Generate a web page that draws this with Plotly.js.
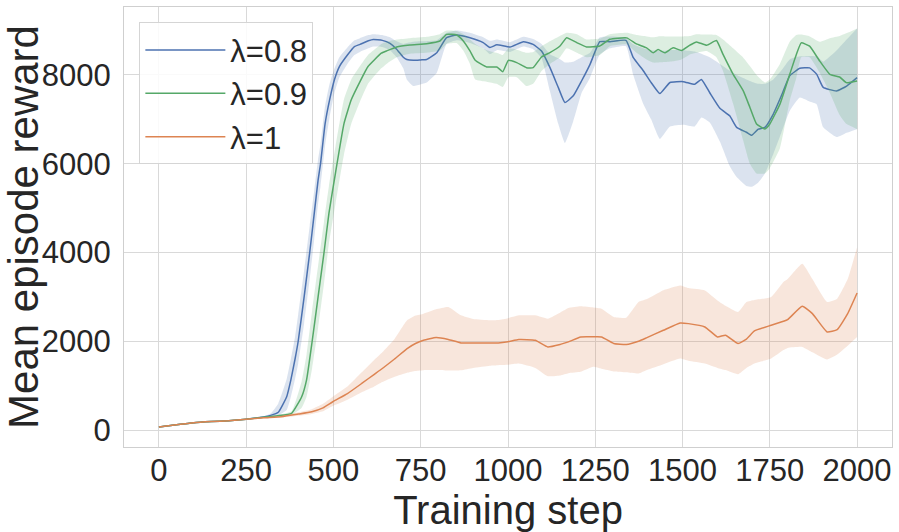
<!DOCTYPE html>
<html>
<head>
<meta charset="utf-8">
<script src="https://cdn.plot.ly/plotly-3.0.1.min.js"></script>
<style>
  html, body { margin: 0; padding: 0; background: #fff; }
  #graph { width: 899px; height: 532px; }
</style>
</head>
<body>
<div id="graph"></div>
<script>
'use strict';

// λ=0.8
var blueStep = [
  0, 50, 100, 150, 200, 250, 300, 320, 342, 366,
  378, 390, 399, 416, 432, 445, 456, 463, 476, 489,
  503, 517, 540, 560, 576, 600, 614, 640, 662, 681,
  700, 710, 729, 750, 767, 796, 824, 853, 891, 929,
  948, 968, 1006, 1044, 1072, 1096, 1120, 1144, 1163, 1187,
  1211, 1235, 1263, 1292, 1338, 1359, 1388, 1410, 1435, 1464,
  1502, 1535, 1554, 1578, 1607, 1635, 1655, 1683, 1698, 1717,
  1736, 1760, 1783, 1807, 1836, 1864, 1884, 1903, 1941, 1970,
  2000
];
var blueMean = [
  70, 120, 165, 190, 210, 245, 295, 330, 400, 750,
  1130, 1600, 2000, 3000, 4000, 4880, 5630, 6000, 6900, 7440,
  7900, 8190, 8450, 8640, 8690, 8770, 8800, 8780, 8710, 8580,
  8400, 8350, 8330, 8340, 8350, 8500, 8840, 8900, 8840, 8730,
  8620, 8680, 8630, 8750, 8690, 8540, 8170, 7720, 7380, 7530,
  7870, 8240, 8750, 8750, 8780, 8390, 8090, 7830, 7580, 7830,
  7850, 7790, 7900, 7600, 7250, 7080, 6820, 6710, 6640, 6780,
  6820, 7120, 7530, 7980, 8150, 8160, 8020, 7720, 7640, 7750,
  7940
];
var blueLow = [
  60, 110, 155, 180, 200, 235, 280, 300, 330, 450,
  750, 1150, 1500, 2400, 3400, 4300, 5100, 5500, 6400, 7050,
  7600, 7950, 8250, 8450, 8520, 8600, 8640, 8630, 8560, 8400,
  8150, 7900, 7750, 7790, 7830, 8050, 8700, 8780, 8720, 8600,
  8470, 8560, 8520, 8640, 8580, 8380, 7640, 6900, 6470, 6960,
  7600, 7940, 8460, 8600, 8650, 8000, 7340, 7000, 6560, 6840,
  6880, 6840, 7040, 6930, 6500, 5950, 5700, 5500, 5480, 5580,
  5780, 6220, 6700, 7190, 7490, 7400, 7340, 6820, 6600, 6700,
  6780
];
var blueHigh = [
  80, 130, 175, 200, 220, 255, 310, 370, 600, 1150,
  1600, 2100, 2600, 3600, 4600, 5400, 6100, 6450, 7300, 7800,
  8150, 8400, 8620, 8780, 8830, 8900, 8920, 8900, 8850, 8760,
  8700, 8720, 8750, 8760, 8760, 8780, 8950, 9000, 8950, 8850,
  8770, 8800, 8740, 8860, 8810, 8700, 8470, 8380, 8280, 8300,
  8400, 8500, 8850, 8870, 8840, 8690, 8600, 8560, 8540, 8560,
  8560, 8530, 8480, 8400, 8250, 8100, 8000, 7900, 7850, 7800,
  7800, 7900, 8100, 8350, 8420, 8430, 8420, 8300, 8550, 8800,
  9050
];

// λ=0.9
var greenStep = [
  0, 50, 100, 150, 200, 250, 300, 340, 380, 409,
  423, 439, 456, 473, 487, 506, 530, 551, 576, 599,
  614, 637, 652, 681, 719, 767, 805, 824, 853, 872,
  891, 906, 939, 968, 985, 1001, 1025, 1053, 1072, 1096,
  1120, 1149, 1168, 1197, 1225, 1263, 1292, 1340, 1368, 1397,
  1416, 1430, 1449, 1473, 1497, 1521, 1540, 1569, 1597, 1616,
  1645, 1674, 1693, 1712, 1736, 1750, 1779, 1807, 1826, 1840,
  1864, 1893, 1922, 1950, 1969, 2000
];
var greenMean = [
  70, 120, 165, 190, 210, 245, 285, 320, 375, 750,
  1130, 2000, 3000, 4000, 4880, 5800, 6900, 7440, 7850, 8190,
  8315, 8490, 8541, 8631, 8676, 8706, 8766, 8916, 8901, 8766,
  8541, 8330, 8180, 8180, 8075, 8330, 8278, 8165, 8165, 8406,
  8503, 8653, 8841, 8728, 8631, 8653, 8804, 8836, 8701, 8612,
  8500, 8574, 8500, 8612, 8552, 8671, 8746, 8671, 8776, 8463,
  8015, 7642, 7269, 6896, 6784, 6896, 7343, 8015, 8463, 8724,
  8649, 8313, 8015, 7955, 7828, 7866
];
var greenLow = [
  60, 110, 155, 180, 200, 235, 275, 305, 340, 500,
  750, 1400, 2300, 3300, 4200, 5100, 6200, 6900, 7400, 7800,
  7950, 8150, 8250, 8400, 8480, 8500, 8550, 8700, 8720, 8550,
  8250, 7900, 7850, 7800, 7730, 7950, 7950, 7750, 7800, 8090,
  8250, 8400, 8600, 8500, 8400, 8450, 8650, 8690, 8500, 8350,
  8280, 8280, 8290, 8310, 8350, 8460, 8500, 8540, 8400, 8090,
  7350, 6520, 6000, 5780, 5780, 5900, 6350, 7420, 7940, 8400,
  8400, 8050, 7600, 7100, 6900, 6780
];
var greenHigh = [
  80, 130, 175, 200, 220, 255, 300, 340, 420, 1100,
  1700, 2700, 3700, 4700, 5500, 6400, 7450, 7900, 8200, 8450,
  8550, 8700, 8750, 8800, 8830, 8860, 8920, 9000, 8990, 8920,
  8800, 8700, 8560, 8500, 8450, 8600, 8570, 8500, 8520, 8650,
  8760, 8880, 8950, 8920, 8800, 8820, 8920, 8950, 8900, 8870,
  8850, 8870, 8870, 8870, 8870, 8880, 8920, 8910, 8900, 8800,
  8600, 8390, 8200, 8000, 7830, 7900, 8250, 8750, 8900, 8910,
  8870, 8750, 8830, 8880, 8940, 9050
];

// λ=1
var orangeStep = [
  0, 50, 100, 150, 200, 250, 300, 350, 400, 438,
  470, 498, 540, 581, 616, 640, 675, 711, 735, 758,
  794, 829, 865, 900, 948, 972, 1000, 1031, 1078, 1114,
  1150, 1173, 1208, 1244, 1268, 1303, 1339, 1374, 1398, 1445,
  1493, 1517, 1564, 1600, 1623, 1659, 1683, 1706, 1754, 1789,
  1801, 1843, 1872, 1914, 1943, 1973, 2000
];
var orangeMean = [
  70, 120, 165, 190, 210, 240, 275, 300, 360, 412,
  500, 637, 820, 1049, 1250, 1386, 1600, 1835, 1950, 2022,
  2082, 2040, 1963, 1960, 1963, 1963, 1990, 2037, 2022, 1873,
  1930, 1985, 2097, 2100, 2097, 1948, 1925, 2000, 2082, 2247,
  2412, 2397, 2322, 2097, 2135, 1948, 2050, 2232, 2360, 2450,
  2487, 2787, 2622, 2210, 2262, 2622, 3086
];
var orangeLow = [
  60, 110, 155, 180, 200, 230, 260, 280, 320, 360,
  420, 539, 680, 850, 974, 1080, 1200, 1290, 1330, 1348,
  1350, 1340, 1348, 1400, 1450, 1461, 1470, 1498, 1400, 1213,
  1230, 1280, 1311, 1423, 1380, 1320, 1300, 1273, 1350, 1480,
  1610, 1560, 1498, 1400, 1350, 1258, 1400, 1500, 1610, 1800,
  1850, 1873, 1750, 1588, 1700, 1900, 2097
];
var orangeHigh = [
  80, 130, 175, 200, 220, 250, 290, 320, 400, 470,
  590, 750, 980, 1300, 1573, 1750, 2050, 2472, 2580, 2622,
  2720, 2772, 2584, 2500, 2472, 2480, 2520, 2584, 2584, 2509,
  2650, 2750, 2787, 2760, 2734, 2547, 2532, 2884, 2950, 3150,
  3258, 3200, 3146, 2921, 2800, 2659, 2884, 2930, 2996, 3333,
  3400, 3745, 3400, 2884, 2959, 3400, 4120
];

var xTicks = [0, 250, 500, 750, 1000, 1250, 1500, 1750, 2000];
var yTicks = [0, 2000, 4000, 6000, 8000];

var FONT = '"Liberation Sans", Arial, sans-serif';
var TEXT = '#262626';

/**
 * Band (low + high filled) and mean line for one run.
 */
function series(name, step, mean, low, high, color, fill){
  var shape = {shape: 'spline', smoothing: 0.4, width: 0, color: color};
  var lowTrace = {
    x: step, y: low, type: 'scatter', mode: 'lines',
    line: shape, showlegend: false, hoverinfo: 'skip'
  };
  var highTrace = {
    x: step, y: high, type: 'scatter', mode: 'lines',
    line: shape, fill: 'tonexty', fillcolor: fill,
    showlegend: false, hoverinfo: 'skip'
  };
  var meanTrace = {
    x: step, y: mean, type: 'scatter', mode: 'lines', name: name,
    line: {shape: 'spline', smoothing: 0.4, width: 1.5, color: color}
  };
  return [lowTrace, highTrace, meanTrace];
}

var data = []
  .concat(series('λ=0.8', blueStep, blueMean, blueLow, blueHigh, '#4C72B0', 'rgba(76,114,176,0.2)'))
  .concat(series('λ=0.9', greenStep, greenMean, greenLow, greenHigh, '#55A868', 'rgba(85,168,104,0.2)'))
  .concat(series('λ=1', orangeStep, orangeMean, orangeLow, orangeHigh, '#DD8452', 'rgba(221,132,82,0.2)'));

var axis = {
  showgrid: true, gridcolor: '#d9d9d9', gridwidth: 1,
  showline: true, linecolor: '#cfcfcf', linewidth: 1, mirror: true,
  zeroline: false, ticks: '', tickfont: {family: FONT, size: 31, color: TEXT}
};

var layout = {
  width: 899, height: 532,
  margin: {l: 124, r: 7, t: 7, b: 85},
  paper_bgcolor: '#fff', plot_bgcolor: '#fff',
  font: {family: FONT, color: TEXT},
  showlegend: true,
  xaxis: Object.assign({}, axis, {
    range: [-100, 2100], tickmode: 'array', tickvals: xTicks,
    ticklabelstandoff: -4,
    title: {text: 'Training step', font: {family: FONT, size: 40, color: TEXT}, standoff: 6}
  }),
  yaxis: Object.assign({}, axis, {
    range: [-383, 9532], tickmode: 'array', tickvals: yTicks,
    ticklabelstandoff: 6,
    title: {text: 'Mean episode reward', font: {family: FONT, size: 42, color: TEXT}, standoff: 6}
  }),
  legend: {
    x: 0.02, y: 0.965, xanchor: 'left', yanchor: 'top',
    traceorder: 'normal', itemwidth: 80,
    bgcolor: 'rgba(255,255,255,0.85)', bordercolor: '#d5d5d5', borderwidth: 1,
    font: {family: FONT, size: 31, color: TEXT}
  }
};

Plotly.newPlot('graph', data, layout, {displayModeBar: false, staticPlot: true});
</script>
</body>
</html>
